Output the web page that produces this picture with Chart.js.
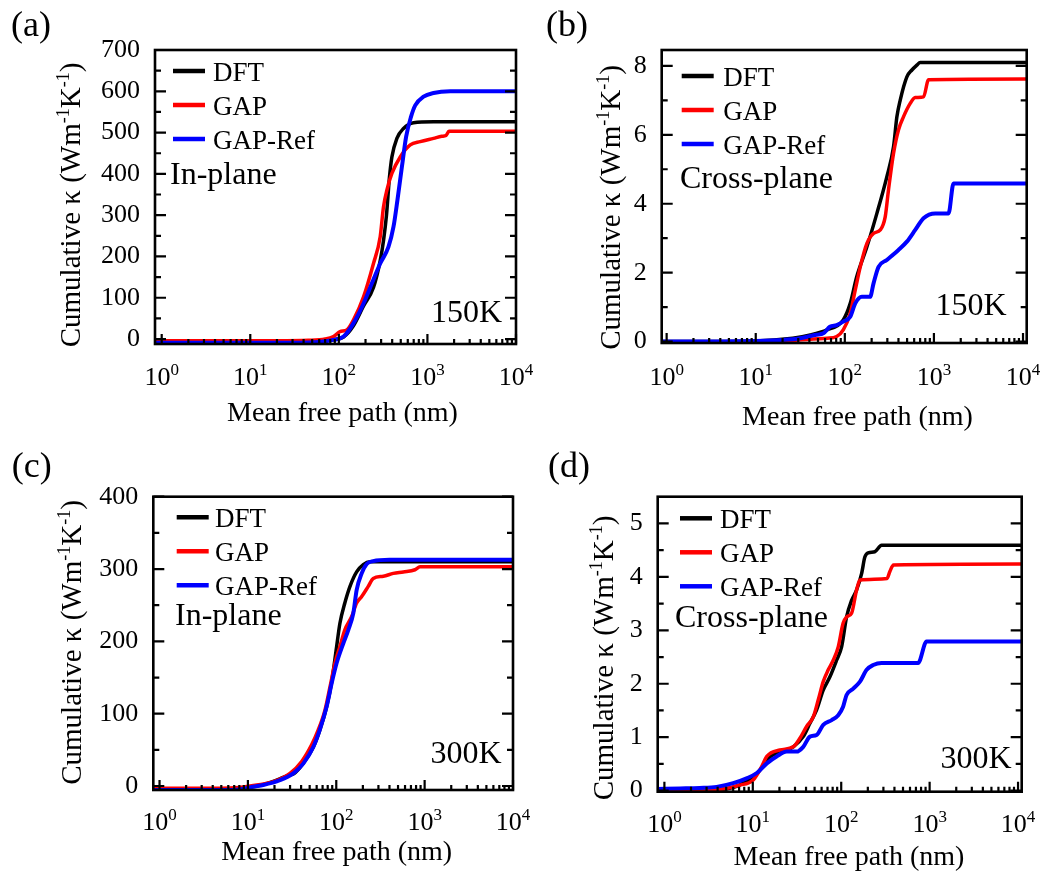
<!DOCTYPE html>
<html>
<head>
<meta charset="utf-8">
<script src="https://cdn.jsdelivr.net/npm/chart.js@4.4.1/dist/chart.umd.min.js"></script>
<style>
  body { margin: 0; background: #fff; }
  #wrap { position: relative; width: 1046px; height: 877px; }
  #wrap canvas { position: absolute; left: 0; top: 0; }
</style>
</head>
<body>
<div id="wrap">
  <canvas id="pa" width="1046" height="877"></canvas>
  <canvas id="pb" width="1046" height="877"></canvas>
  <canvas id="pc" width="1046" height="877"></canvas>
  <canvas id="pd" width="1046" height="877"></canvas>
</div>
<script>
'use strict';

// series names and axis ticks
const seriesNames = ['DFT', 'GAP', 'GAP-Ref'];
const xDecades = [1, 10, 100, 1000, 10000];
const xExponents = ['0', '1', '2', '3', '4'];

const aYTicks = [0, 100, 200, 300, 400, 500, 600, 700];
const aYMinor = [50, 150, 250, 350, 450, 550, 650];
const bYTicks = [0, 2, 4, 6, 8];
const bYMinor = [1, 3, 5, 7];
const cYTicks = [0, 100, 200, 300, 400];
const cYMinor = [50, 150, 250, 350];
const dYTicks = [0, 1, 2, 3, 4, 5];
const dYMinor = [0.5, 1.5, 2.5, 3.5, 4.5];

// (a) in-plane, 150K  (mean free path nm -> cumulative kappa)
const aDftX = [0.84, 20, 45, 87, 113, 146, 190, 246, 293, 320, 345, 372, 397, 452, 537, 697, 1172, 10000];
const aDftY = [-6, -6, -5, -1, 5, 32, 80, 125, 190, 240, 300, 390, 441, 486, 510, 524, 526, 526];
const aGapX = [0.84, 20, 45, 70, 87, 103, 123, 146, 190, 246, 293, 319, 349, 397, 493, 640, 829, 1172, 1450, 1620, 1750, 10000];
const aGapY = [-4, -4, -3, 0, 6, 18, 22, 46, 102, 183, 248, 320, 361, 401, 441, 470, 478, 486, 491, 493, 503, 503];
const aRefX = [0.84, 20, 37, 60, 87, 113, 146, 190, 236, 293, 363, 414, 459, 515, 575, 652, 728, 904, 1172, 1811, 10000];
const aRefY = [-9, -9, -9, -7, -2, 6, 38, 86, 135, 183, 223, 272, 337, 417, 490, 538, 566, 587, 596, 600, 600];

// (b) cross-plane, 150K
const bDftX = [0.88, 10, 26, 41, 63, 96, 115, 136, 177, 229, 296, 352, 384, 418, 497, 566, 644, 702, 11000];
const bDftY = [0, 0.02, 0.1, 0.19, 0.34, 0.63, 1.11, 1.88, 2.75, 3.72, 4.78, 5.65, 6.52, 7.0, 7.68, 7.88, 8.02, 8.1, 8.1];
const bGapX = [0.88, 10, 30, 50, 63, 81, 96, 115, 131, 149, 177, 210, 250, 284, 309, 352, 400, 455, 542, 617, 764, 871, 11000];
const bGapY = [-0.05, -0.03, 0.05, 0.08, 0.1, 0.15, 0.34, 0.82, 1.5, 2.17, 2.85, 3.14, 3.24, 3.62, 4.4, 5.46, 6.14, 6.52, 6.91, 7.08, 7.1, 7.6, 7.62];
const bRefX = [0.88, 10, 20, 31.5, 48, 57.5, 68, 81, 96, 115, 131, 155, 192, 210, 239, 296, 400, 497, 617, 764, 1035, 1459, 1660, 11000];
const bRefY = [0, 0.02, 0.05, 0.1, 0.2, 0.24, 0.43, 0.48, 0.58, 0.72, 1.11, 1.3, 1.3, 1.69, 2.17, 2.37, 2.66, 2.9, 3.24, 3.58, 3.72, 3.72, 4.59, 4.59];

// (c) in-plane, 300K
const cDftX = [0.85, 5, 10, 15, 19, 23, 29, 33, 42, 55, 65, 78, 89, 101, 110, 125, 143, 170, 202, 241, 10000];
const cDftY = [-4, -4, -2, 2, 6, 10, 15, 17, 31, 54, 77, 110, 145, 193, 225, 253, 276, 296, 306, 310, 310];
const cGapX = [0.85, 5, 8, 12.6, 19.4, 29.9, 40.6, 52.6, 62.5, 74.5, 84.9, 96.6, 110, 125, 149, 170, 194, 230, 262, 341, 442, 574, 778, 887, 10000];
const cGapY = [-3, -3, -2, 1.4, 6, 17.5, 34, 57, 77.5, 105, 137, 170, 193, 216, 234, 253, 262, 276, 287, 290, 294, 296, 299, 303, 303];
const cRefX = [0.85, 5, 7.4, 9.7, 11.4, 14.9, 23, 32.6, 42.3, 55, 65, 77.8, 88.7, 101, 120, 137, 156, 170, 194, 221, 262, 400, 10000];
const cRefY = [-5.5, -5.5, -5, -3, -1, 1.4, 8, 17.5, 31, 54, 77.5, 110, 142, 170, 197, 216, 239, 271, 294, 307, 311, 313, 313];

// (d) cross-plane, 300K
const dDftX = [0.84, 3, 5, 7, 10.1, 12.1, 14.4, 17, 22.1, 28.7, 37.2, 44.3, 52.7, 62.6, 74.5, 88.7, 101, 115, 131, 149, 170, 185, 202, 240, 286, 11000];
const dDftY = [0, 0.01, 0.03, 0.1, 0.26, 0.39, 0.57, 0.67, 0.73, 0.82, 1.01, 1.26, 1.51, 1.88, 2.13, 2.44, 2.69, 3.25, 3.56, 3.75, 4.06, 4.37, 4.45, 4.47, 4.59, 4.59];
const dGapX = [0.84, 3, 4.6, 7, 10.1, 12.6, 14.4, 20.3, 28.7, 34.1, 40.6, 48.3, 55, 62.6, 71.3, 81.2, 92.5, 105, 115, 131, 149, 163, 330, 355, 390, 11000];
const dGapY = [0, 0.01, 0.03, 0.1, 0.2, 0.45, 0.64, 0.76, 0.82, 0.98, 1.2, 1.38, 1.7, 2.04, 2.26, 2.44, 2.69, 3.13, 3.25, 3.32, 3.75, 3.94, 3.97, 4.1, 4.22, 4.24];
const dRefX = [0.84, 1.5, 2.5, 3.9, 6.0, 8.5, 11.1, 14.4, 18.6, 24.2, 31.3, 37.2, 44.3, 52.7, 62.6, 78, 92.5, 105, 115, 137, 163, 194, 230, 286, 741, 923, 11000];
const dRefY = [0.03, 0.04, 0.05, 0.07, 0.14, 0.23, 0.33, 0.51, 0.64, 0.73, 0.73, 0.82, 1.01, 1.04, 1.23, 1.32, 1.41, 1.57, 1.79, 1.91, 2.04, 2.26, 2.35, 2.39, 2.39, 2.79, 2.79];

const FONT = '"Liberation Serif", "Times New Roman", Times, serif';
const colors = ['#000000', '#ff0000', '#0000ff'];
const yTitle = [['Cumulative \u03ba (Wm', 0], ['-1', 1], ['K', 0], ['-1', 1], [')', 0]];

function pts(xs, ys) {
  return xs.map((x, i) => ({ x: x, y: ys[i] }));
}

function richWidth(ctx, parts, size, supSize) {
  let w = 0;
  parts.forEach(p => {
    ctx.font = (p[1] ? supSize : size) + 'px ' + FONT;
    w += ctx.measureText(p[0]).width;
  });
  return w;
}

function drawRich(ctx, parts, x, y, size, supSize, rise) {
  let cx = x;
  parts.forEach(p => {
    ctx.font = (p[1] ? supSize : size) + 'px ' + FONT;
    ctx.fillText(p[0], cx, p[1] ? y - rise : y);
    cx += ctx.measureText(p[0]).width;
  });
}

// frame, inward ticks, x labels with powers, titles, legend, notes
function makeDecor(p) {
  return {
    id: 'decor',
    afterDraw(chart) {
      const ctx = chart.ctx;
      const a = chart.chartArea;
      const xs = chart.scales.x;
      const ys = chart.scales.y;
      ctx.save();
      ctx.strokeStyle = '#000';
      ctx.fillStyle = '#000';
      ctx.lineWidth = 2.2;
      ctx.beginPath();
      p.yMajor.forEach(v => {
        const y = ys.getPixelForValue(v);
        ctx.moveTo(a.left, y); ctx.lineTo(a.left + 11, y);
        ctx.moveTo(a.right, y); ctx.lineTo(a.right - 11, y);
      });
      p.yMinor.forEach(v => {
        const y = ys.getPixelForValue(v);
        ctx.moveTo(a.left, y); ctx.lineTo(a.left + 6, y);
        ctx.moveTo(a.right, y); ctx.lineTo(a.right - 6, y);
      });
      xDecades.forEach(d => {
        const x = xs.getPixelForValue(d);
        if (x >= a.left && x <= a.right) {
          ctx.moveTo(x, a.bottom); ctx.lineTo(x, a.bottom - 10);
        }
        for (let m = 2; m < 10; m++) {
          const xm = xs.getPixelForValue(d * m);
          if (xm > a.left && xm < a.right) {
            ctx.moveTo(xm, a.bottom); ctx.lineTo(xm, a.bottom - 5);
          }
        }
      });
      ctx.stroke();
      ctx.lineWidth = 2.6;
      ctx.strokeRect(a.left, a.top, a.right - a.left, a.bottom - a.top);

      // x tick labels 10^n
      ctx.textAlign = 'left';
      ctx.textBaseline = 'alphabetic';
      xDecades.forEach((d, i) => {
        const x = xs.getPixelForValue(d);
        const parts = [['10', 0], [xExponents[i], 1]];
        const w = richWidth(ctx, parts, 26, 17);
        drawRich(ctx, parts, x - w / 2, p.xTickBase, 26, 17, 10);
      });

      // x title
      ctx.font = '28px ' + FONT;
      ctx.textAlign = 'center';
      ctx.fillText('Mean free path (nm)', p.xTitle[0], p.xTitle[1]);

      // y title, rotated
      ctx.save();
      ctx.translate(p.yTitle[0], p.yTitle[1]);
      ctx.rotate(-Math.PI / 2);
      ctx.textAlign = 'left';
      const tw = richWidth(ctx, yTitle, 29, 18);
      drawRich(ctx, yTitle, -tw / 2, 0, 29, 18, 11);
      ctx.restore();

      // panel label
      ctx.textAlign = 'left';
      ctx.font = '36px ' + FONT;
      ctx.fillText(p.label, p.labelPos[0], p.labelPos[1]);

      // legend
      chart.data.datasets.forEach((ds, i) => {
        const y = p.legend[1] + i * 34;
        ctx.strokeStyle = ds.borderColor;
        ctx.lineWidth = 4.5;
        ctx.beginPath();
        ctx.moveTo(p.legend[0], y);
        ctx.lineTo(p.legend[0] + 32, y);
        ctx.stroke();
        ctx.font = '27px ' + FONT;
        ctx.fillText(ds.label, p.legend[2], y + 10);
      });

      // notes
      ctx.font = '32px ' + FONT;
      ctx.fillText(p.note, p.notePos[0], p.notePos[1]);
      ctx.textAlign = 'right';
      ctx.fillText(p.temp, p.tempPos[0], p.tempPos[1]);
      ctx.restore();
    }
  };
}

function makeChart(id, p, series) {
  const [L, T, R, B] = p.area;
  const datasets = series.map((s, i) => ({
    label: seriesNames[i],
    data: pts(s[0], s[1]),
    borderColor: colors[i],
    backgroundColor: colors[i],
    borderWidth: i === 2 ? 4 : 3.5,
    pointRadius: 0,
    cubicInterpolationMode: 'monotone',
    order: 2 - i
  }));
  return new Chart(document.getElementById(id), {
    type: 'line',
    data: { datasets: datasets },
    options: {
      responsive: false,
      animation: false,
      events: [],
      layout: { padding: { left: L - 60, top: T, right: 1046 - R, bottom: 877 - B - 40 } },
      plugins: { legend: { display: false }, tooltip: { enabled: false } },
      scales: {
        x: {
          type: 'logarithmic',
          min: p.xMin,
          max: p.xMax,
          ticks: { display: false },
          grid: { display: false },
          border: { display: false },
          afterFit(s) { s.height = 40; }
        },
        y: {
          type: 'linear',
          min: p.yMin,
          max: p.yMax,
          afterBuildTicks(s) { s.ticks = p.yMajor.map(v => ({ value: v })); },
          ticks: {
            autoSkip: false,
            padding: 15,
            color: '#000',
            font: { family: FONT, size: 26 },
            callback: v => String(v)
          },
          grid: { display: false, drawTicks: false },
          border: { display: false },
          afterFit(s) { s.width = 60; }
        }
      }
    },
    plugins: [makeDecor(p)]
  });
}

makeChart('pa', {
  area: [155, 50, 516, 344], xMin: 0.84, xMax: 10000, yMin: -12, yMax: 700,
  yMajor: aYTicks, yMinor: aYMinor, xTickBase: 385, xTitle: [342.5, 421], yTitle: [79.5, 205],
  label: '(a)', labelPos: [11, 36], legend: [173, 71, 213],
  note: 'In-plane', notePos: [170, 184], temp: '150K', tempPos: [502, 322]
}, [[aDftX, aDftY], [aGapX, aGapY], [aRefX, aRefY]]);

makeChart('pb', {
  area: [661.7, 50, 1026.7, 343], xMin: 0.88, xMax: 11000, yMin: -0.04, yMax: 8.46,
  yMajor: bYTicks, yMinor: bYMinor, xTickBase: 385, xTitle: [857.5, 425], yTitle: [620, 207.5],
  label: '(b)', labelPos: [546, 36], legend: [681.7, 76, 723.3],
  note: 'Cross-plane', notePos: [680, 188], temp: '150K', tempPos: [1006.7, 315]
}, [[bDftX, bDftY], [bGapX, bGapY], [bRefX, bRefY]]);

makeChart('pc', {
  area: [153.3, 496.7, 513, 790], xMin: 0.85, xMax: 10000, yMin: -5.5, yMax: 400,
  yMajor: cYTicks, yMinor: cYMinor, xTickBase: 830, xTitle: [336.7, 860], yTitle: [81, 642.5],
  label: '(c)', labelPos: [11.7, 477], legend: [176.7, 517.3, 215],
  note: 'In-plane', notePos: [175, 625], temp: '300K', tempPos: [501.7, 763.3]
}, [[cDftX, cDftY], [cGapX, cGapY], [cRefX, cRefY]]);

makeChart('pd', {
  area: [657.7, 496.7, 1021.7, 791.7], xMin: 0.84, xMax: 11000, yMin: -0.02, yMax: 5.5,
  yMajor: dYTicks, yMinor: dYMinor, xTickBase: 831.7, xTitle: [849, 865], yTitle: [612.5, 658],
  label: '(d)', labelPos: [548, 477], legend: [680, 518.3, 720],
  note: 'Cross-plane', notePos: [675, 626.7], temp: '300K', tempPos: [1011.7, 768.3]
}, [[dDftX, dDftY], [dGapX, dGapY], [dRefX, dRefY]]);
</script>
</body>
</html>
